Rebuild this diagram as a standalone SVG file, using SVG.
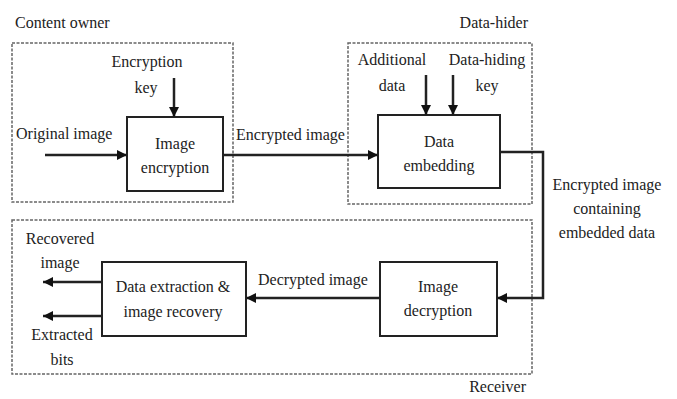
<svg xmlns="http://www.w3.org/2000/svg" width="677" height="399" viewBox="0 0 677 399">
<defs>
<marker id="ah" viewBox="0 0 10 10" refX="10" refY="5" markerWidth="10" markerHeight="10" markerUnits="userSpaceOnUse" orient="auto">
<path d="M0,0 L10,5 L0,10 Z" fill="#111"/>
</marker>
</defs>
<style>
text{font-family:"Liberation Serif","Times New Roman",serif;font-size:16px;fill:#222;}
.m{text-anchor:middle;}
.grp{fill:none;stroke:#666;stroke-width:1.5;stroke-dasharray:3 1.5;}
.box{fill:#fff;stroke:#222;stroke-width:2;}
.ar{fill:none;stroke:#222;stroke-width:2.5;marker-end:url(#ah);}
</style>
<rect width="677" height="399" fill="#fff"/>
<g id="content-owner">
<rect class="grp" x="12" y="43" width="221" height="159"/>
<text x="15" y="28">Content owner</text>
</g>
<g id="data-hider">
<rect class="grp" x="348" y="43" width="184" height="161"/>
<text x="528" y="28" text-anchor="end">Data-hider</text>
</g>
<g id="receiver">
<rect class="grp" x="12" y="220" width="520" height="154"/>
<text x="526" y="392" text-anchor="end">Receiver</text>
</g>
<g id="image-encryption">
<rect class="box" x="127" y="117" width="96" height="74"/>
<text class="m" x="175" y="149">Image</text>
<text class="m" x="175" y="173">encryption</text>
</g>
<g id="data-embedding">
<rect class="box" x="378" y="115" width="122" height="73"/>
<text class="m" x="439" y="147">Data</text>
<text class="m" x="439" y="171">embedding</text>
</g>
<g id="image-decryption">
<rect class="box" x="380" y="262" width="117" height="74"/>
<text class="m" x="438" y="292">Image</text>
<text class="m" x="438" y="316">decryption</text>
</g>
<g id="data-extraction">
<rect class="box" x="102" y="262" width="144" height="74"/>
<text class="m" x="173" y="292">Data extraction &amp;</text>
<text class="m" x="173" y="317">image recovery</text>
</g>
<g id="labels">
<text class="m" x="147" y="67">Encryption</text>
<text class="m" x="146" y="93">key</text>
<text x="16" y="139">Original image</text>
<text x="236" y="140">Encrypted image</text>
<text class="m" x="392" y="65">Additional</text>
<text class="m" x="392" y="91">data</text>
<text class="m" x="487" y="65">Data-hiding</text>
<text class="m" x="487" y="91">key</text>
<text class="m" x="607" y="190">Encrypted image</text>
<text class="m" x="607" y="214">containing</text>
<text class="m" x="607" y="238">embedded data</text>
<text x="258" y="285">Decrypted image</text>
<text class="m" x="60" y="244">Recovered</text>
<text class="m" x="60" y="268">image</text>
<text class="m" x="62" y="340">Extracted</text>
<text class="m" x="62" y="365">bits</text>
</g>
<g id="connectors">
<line class="ar" x1="45" y1="155" x2="127" y2="155"/>
<line class="ar" x1="174" y1="78" x2="174" y2="117"/>
<line class="ar" x1="223" y1="155" x2="378" y2="155"/>
<line class="ar" x1="426" y1="75" x2="426" y2="115"/>
<line class="ar" x1="453" y1="75" x2="453" y2="115"/>
<polyline class="ar" points="500,152 543,152 543,298 497,298"/>
<line class="ar" x1="380" y1="298" x2="246" y2="298"/>
<line class="ar" x1="102" y1="282" x2="43" y2="282"/>
<line class="ar" x1="102" y1="316" x2="43" y2="316"/>
</g>
</svg>
